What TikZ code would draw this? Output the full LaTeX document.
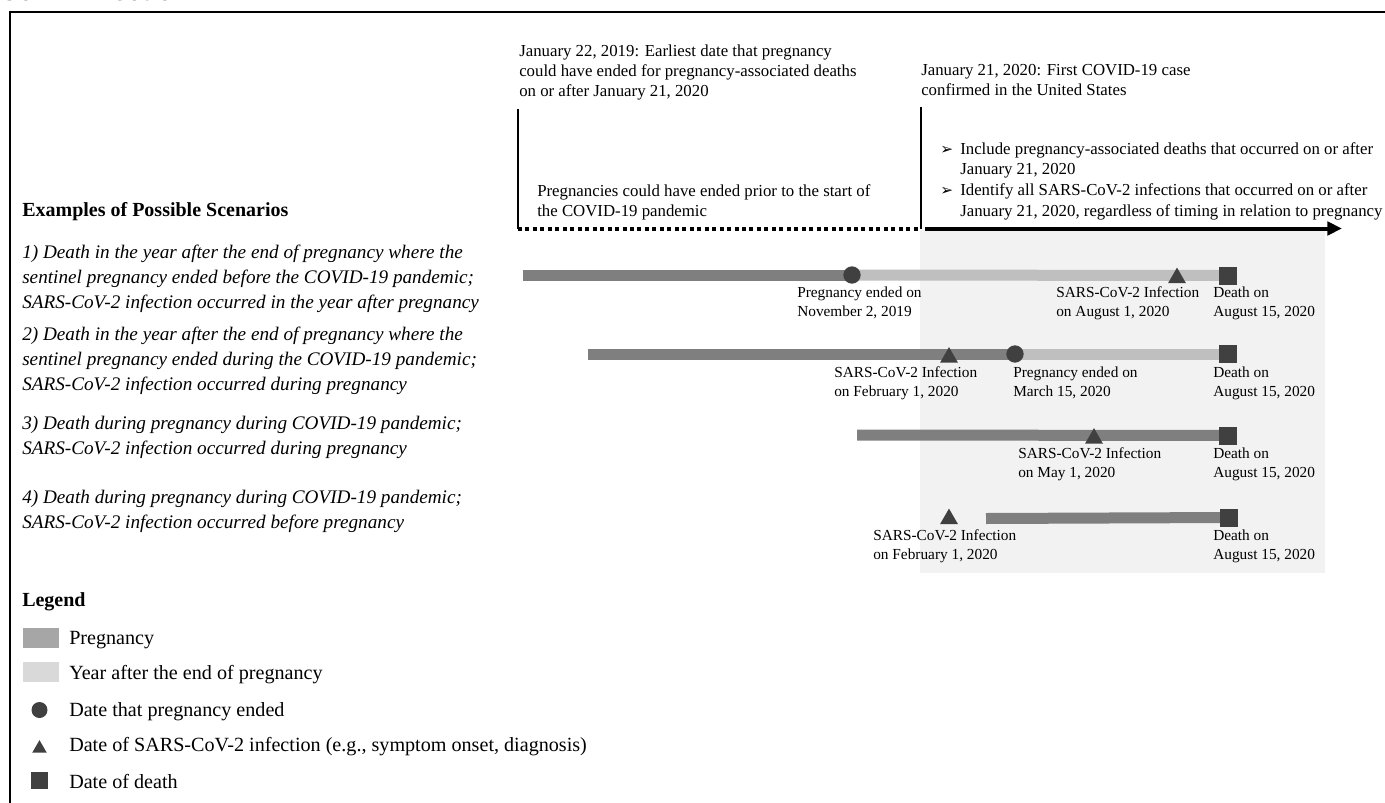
\documentclass[tikz,border=0pt]{standalone}
\usepackage{fontspec}
\setmainfont{Liberation Serif}
\newfontfamily\sansfont{Liberation Sans}
\newfontfamily\dingfont{DejaVu Sans}
\usetikzlibrary{arrows.meta,shapes.geometric,backgrounds}
\definecolor{pregc}{HTML}{7F7F7F}
\definecolor{yearc}{HTML}{BFBFBF}
\definecolor{markc}{HTML}{404040}
\definecolor{shadec}{HTML}{F2F2F2}
\definecolor{legpreg}{HTML}{A6A6A6}
\definecolor{legyear}{HTML}{D9D9D9}
\newcommand{\bul}{\makebox[15pt][l]{\dingfont\fontsize{11.5}{15.5}\selectfont\char"27A2}}
\begin{document}
\begin{tikzpicture}[x=0.75pt,y=-0.75pt,
  txt/.style={inner sep=0pt, anchor=north west, align=left},
  lbl/.style={txt, font=\fontsize{11.5}{14.25}\selectfont},
  toptxt/.style={txt, font=\fontsize{12.6}{15.2}\selectfont},
  bultxt/.style={txt, font=\fontsize{12.6}{15.5}\selectfont},
  scen/.style={txt, font=\fontsize{14.4}{18.4}\selectfont\itshape},
  hdr/.style={inner sep=0pt, anchor=base west, font=\fontsize{15}{18}\selectfont\bfseries},
  legtxt/.style={inner sep=0pt, anchor=base west, font=\fontsize{15.1}{18}\selectfont},
  dotmark/.style={circle, fill=markc, inner sep=0pt, minimum size=13pt},
  trimark/.style={regular polygon, regular polygon sides=3, fill=markc, inner sep=0pt, minimum size=15.6pt},
  sqmark/.style={rectangle, fill=markc, inner sep=0pt, minimum size=13.5pt},
  pbar/.style={draw=pregc, line width=8.25pt},
  ybar/.style={draw=yearc, line width=8.25pt},
  frameline/.style={line width=2pt, black},
  vline/.style={line width=1.5pt, black},
  dotline/.style={line width=3pt, black, dash pattern=on 3pt off 2.6pt},
  arrline/.style={line width=3pt, black, -{Triangle[length=11pt,width=10pt]}},
  legbox/.style={rectangle, inner sep=0pt, minimum width=27pt, minimum height=15pt}
]
\useasboundingbox (0,0) rectangle (1385,803);

% title (cropped at top edge, as in the reference)
\node[anchor=base west, inner sep=0pt, font=\sansfont\bfseries\itshape\fontsize{19.5}{20}\selectfont] (title) at (0,0.5) {CoV-2 Infection};

% frame
\coordinate (fTL) at (10,12);
\coordinate (fBL) at (10,805);
\coordinate (fTR) at (1387,12);
\draw[frameline] (fBL) -- (fTL) -- (fTR);

% shaded pandemic region
\begin{scope}[on background layer]
\fill[shadec] (920,230) rectangle (1325,573);
\end{scope}

% top timeline
\coordinate (pLt) at (518,109);
\coordinate (pLb) at (518,229);
\coordinate (pRt) at (920.5,107);
\coordinate (pRb) at (920.5,229);
\coordinate (arS) at (925,228.5);
\coordinate (arE) at (1342,228.5);
\draw[vline] (pLt) -- (pLb);
\draw[vline] (pRt) -- (pRb);
\draw[dotline] (pLb) -- (pRb);
\draw[arrline] (arS) -- (arE);

\node[toptxt] (topA) at (519,41.8) {\strut January 22, 2019: Earliest date that pregnancy\\could have ended for pregnancy-associated deaths\\on or after January 21, 2020};
\node[toptxt] (topB) at (921,60.8) {\strut January 21, 2020: First COVID-19 case\\confirmed in the United States};
\node[toptxt] (prior) at (537,181.8) {\strut Pregnancies could have ended prior to the start of\\the COVID-19 pandemic};
\node[bultxt] (bullets) at (940,139.5) {\strut\bul Include pregnancy-associated deaths that occurred on or after\\\hspace*{15pt}January 21, 2020\\\bul Identify all SARS-CoV-2 infections that occurred on or after\\\hspace*{15pt}January 21, 2020, regardless of timing in relation to pregnancy};

% scenario texts
\node[hdr] (exhdr) at (22,216.5) {Examples of Possible Scenarios};
\node[scen] (s1) at (22,241.5) {\strut 1) Death in the year after the end of pregnancy where the\\sentinel pregnancy ended before the COVID-19 pandemic;\\SARS-CoV-2 infection occurred in the year after pregnancy};
\node[scen] (s2) at (22,323.5) {\strut 2) Death in the year after the end of pregnancy where the\\sentinel pregnancy ended during the COVID-19 pandemic;\\SARS-CoV-2 infection occurred during pregnancy};
\node[scen] (s3) at (22,412.5) {\strut 3) Death during pregnancy during COVID-19 pandemic;\\SARS-CoV-2 infection occurred during pregnancy};
\node[scen] (s4) at (22,486.5) {\strut 4) Death during pregnancy during COVID-19 pandemic;\\SARS-CoV-2 infection occurred before pregnancy};

% row 1
\coordinate (r1s) at (523,275);
\node[dotmark] (c1) at (852,275) {};
\node[trimark] (t1) at (1177,278) {};
\node[sqmark] (d1) at (1228,275.5) {};
% row 2
\coordinate (r2s) at (588,354);
\node[trimark] (t2) at (949,357.5) {};
\node[dotmark] (c2) at (1015,354) {};
\node[sqmark] (d2) at (1228,354) {};
% row 3
\coordinate (r3s) at (857,435);
\node[trimark] (t3) at (1094,438.5) {};
\node[sqmark] (d3) at (1228,435.5) {};
% row 4
\coordinate (r4s) at (986,518.5);
\node[trimark] (t4) at (949,519) {};
\node[sqmark] (d4) at (1229,517.5) {};

\begin{scope}[on background layer]
\draw[pbar] (r1s) -- (c1.center);
\draw[ybar] (c1.center) -- (d1.center);
\draw[pbar] (r2s) -- (c2.center);
\draw[ybar] (c2.center) -- (d2.center);
\draw[pbar] (r3s) -- (d3.center);
\draw[pbar] (r4s) -- (d4.center);
\end{scope}

% labels
\node[lbl] (l1a) at (797,284.3) {\strut Pregnancy ended on\\November 2, 2019};
\node[lbl] (l1b) at (1056,284.3) {\strut SARS-CoV-2 Infection\\on August 1, 2020};
\node[lbl] (l1c) at (1213,284.3) {\strut Death on\\August 15, 2020};
\node[lbl] (l2a) at (834,364.3) {\strut SARS-CoV-2 Infection\\on February 1, 2020};
\node[lbl] (l2b) at (1013,364.3) {\strut Pregnancy ended on\\March 15, 2020};
\node[lbl] (l2c) at (1213,364.3) {\strut Death on\\August 15, 2020};
\node[lbl] (l3a) at (1018,445.3) {\strut SARS-CoV-2 Infection\\on May 1, 2020};
\node[lbl] (l3b) at (1213,445.3) {\strut Death on\\August 15, 2020};
\node[lbl] (l4a) at (873,527.3) {\strut SARS-CoV-2 Infection\\on February 1, 2020};
\node[lbl] (l4b) at (1213,527.3) {\strut Death on\\August 15, 2020};

% legend
\node[hdr] (leghdr) at (22,606.5) {Legend};
\node[legbox, fill=legpreg] (lgp) at (41,638) {};
\node[legbox, fill=legyear] (lgy) at (41,671.5) {};
\node[circle, fill=markc, inner sep=0pt, minimum size=12pt] (lgc) at (39.5,710) {};
\node[regular polygon, regular polygon sides=3, fill=markc, inner sep=0pt, minimum size=12.6pt] (lgt) at (39.5,748.5) {};
\node[rectangle, fill=markc, inner sep=0pt, minimum size=12.5pt] (lgs) at (39.5,780.5) {};
\node[legtxt] (lgpt) at (69,644) {Pregnancy};
\node[legtxt] (lgyt) at (69,679) {Year after the end of pregnancy};
\node[legtxt] (lgct) at (69,716) {Date that pregnancy ended};
\node[legtxt] (lgtt) at (69,751) {Date of SARS-CoV-2 infection (e.g., symptom onset, diagnosis)};
\node[legtxt] (lgst) at (69,788) {Date of death};
\end{tikzpicture}
\end{document}
